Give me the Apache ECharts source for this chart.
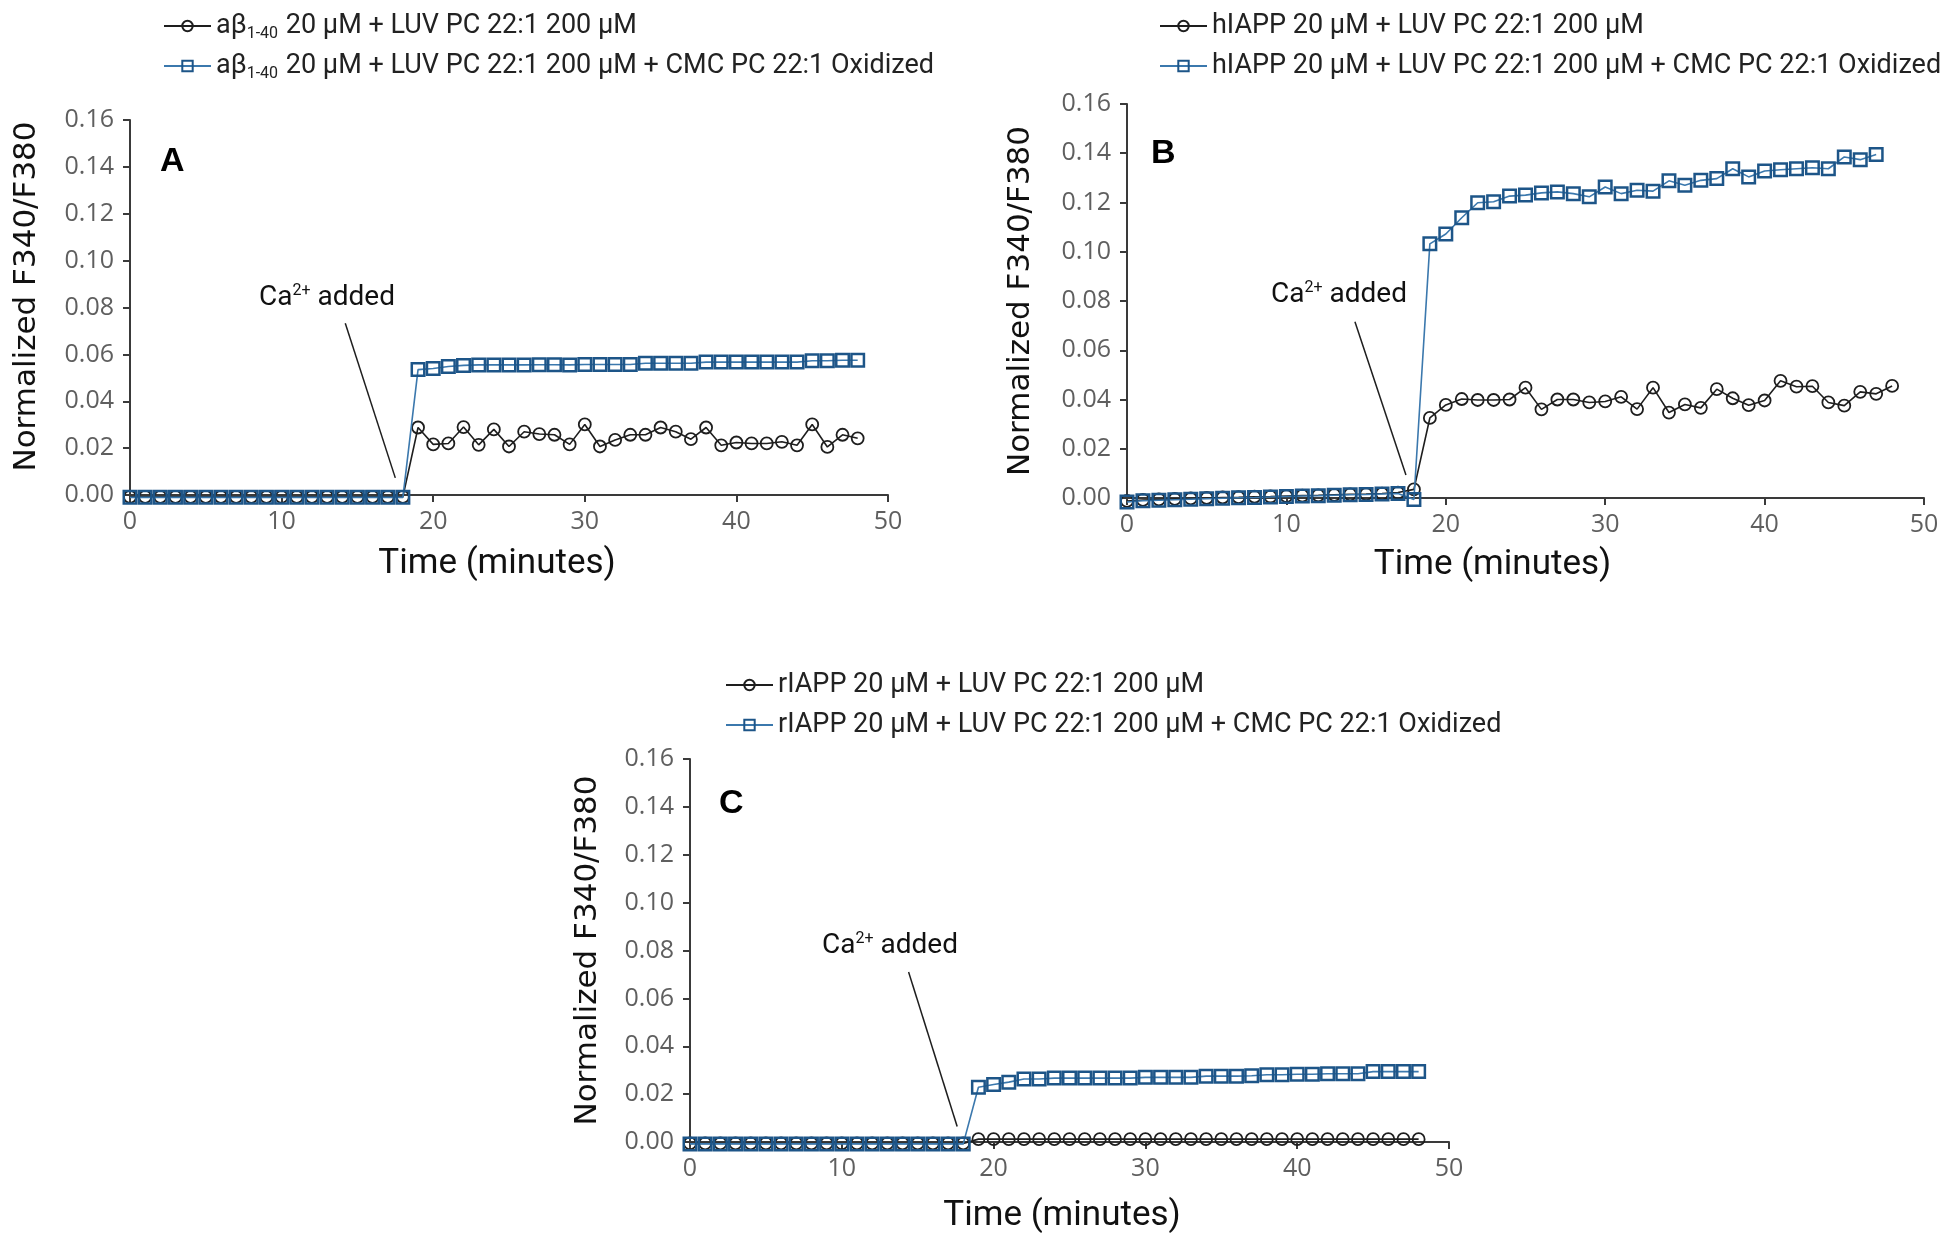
<!DOCTYPE html>
<html>
<head>
<meta charset="utf-8">
<script src="https://cdn.jsdelivr.net/npm/echarts@6/dist/echarts.min.js"></script>
<style>html,body{margin:0;padding:0;background:#fff;}#c{width:1950px;height:1243px;}</style>
</head>
<body>
<div id="c"></div>
<script>
// ---- data ----
const minutes = [0,1,2,3,4,5,6,7,8,9,10,11,12,13,14,15,16,17,18,19,20,21,22,23,24,25,26,27,28,29,30,31,32,33,34,35,36,37,38,39,40,41,42,43,44,45,46,47,48];
const xTicks = [0,10,20,30,40,50];
const yTicks = [0,0.02,0.04,0.06,0.08,0.10,0.12,0.14,0.16];

const seriesNames = {
  aLUV: 'aβ1-40 20 μM + LUV PC 22:1 200 μM',
  aCMC: 'aβ1-40 20 μM + LUV PC 22:1 200 μM + CMC PC 22:1 Oxidized',
  hLUV: 'hIAPP 20 μM + LUV PC 22:1 200 μM',
  hCMC: 'hIAPP 20 μM + LUV PC 22:1 200 μM + CMC PC 22:1 Oxidized',
  rLUV: 'rIAPP 20 μM + LUV PC 22:1 200 μM',
  rCMC: 'rIAPP 20 μM + LUV PC 22:1 200 μM + CMC PC 22:1 Oxidized'
};

// Panel A
const aLUV = [-0.0008,-0.0008,-0.0008,-0.0008,-0.0008,-0.0008,-0.0008,-0.0008,-0.0008,-0.0008,-0.0008,-0.0008,-0.0008,-0.0008,-0.0008,-0.0008,-0.0008,-0.0008,-0.0008,
  0.0288,0.0216,0.0220,0.0290,0.0214,0.0280,0.0207,0.0270,0.0260,0.0257,0.0216,0.0301,0.0207,0.0235,0.0257,0.0257,0.0288,0.0270,0.0238,0.0288,0.0212,0.0224,0.0220,0.0220,0.0227,0.0212,0.0301,0.0205,0.0257,0.0242];
const aCMC = [-0.0010,-0.0010,-0.0010,-0.0010,-0.0010,-0.0010,-0.0010,-0.0010,-0.0010,-0.0010,-0.0010,-0.0010,-0.0010,-0.0010,-0.0010,-0.0010,-0.0010,-0.0010,-0.0010,
  0.0535,0.0540,0.0548,0.0553,0.0555,0.0555,0.0555,0.0555,0.0556,0.0556,0.0555,0.0557,0.0557,0.0557,0.0557,0.0562,0.0562,0.0562,0.0562,0.0567,0.0567,0.0567,0.0567,0.0567,0.0567,0.0567,0.0573,0.0573,0.0575,0.0575];
// Panel B
const hLUV = [-0.0012,-0.0008,-0.0006,-0.0004,-0.0002,0.0000,0.0002,0.0003,0.0005,0.0006,0.0008,0.0010,0.0011,0.0013,0.0015,0.0016,0.0018,0.0022,0.0035,
  0.0325,0.0378,0.0402,0.0398,0.0398,0.0400,0.0448,0.0360,0.0400,0.0400,0.0388,0.0392,0.0411,0.0361,0.0448,0.0347,0.0380,0.0366,0.0442,0.0405,0.0377,0.0396,0.0476,0.0452,0.0454,0.0388,0.0375,0.0431,0.0423,0.0455];
const hCMC = [-0.0016,-0.0011,-0.0009,-0.0007,-0.0005,-0.0003,-0.0001,0.0001,0.0002,0.0004,0.0006,0.0008,0.0009,0.0011,0.0013,0.0014,0.0016,0.0018,-0.0006,
  0.1032,0.1072,0.1138,0.1199,0.1203,0.1226,0.1230,0.1239,0.1243,0.1236,0.1223,0.1263,0.1236,0.1250,0.1246,0.1288,0.1270,0.1290,0.1297,0.1337,0.1304,0.1328,0.1333,0.1337,0.1341,0.1337,0.1385,0.1374,0.1395];
// Panel C
const rLUV = [-0.0006,-0.0006,-0.0006,-0.0006,-0.0006,-0.0006,-0.0006,-0.0006,-0.0006,-0.0006,-0.0006,-0.0006,-0.0006,-0.0006,-0.0006,-0.0006,-0.0006,-0.0006,-0.0006,
  0.0012,0.0012,0.0012,0.0012,0.0012,0.0012,0.0012,0.0012,0.0012,0.0012,0.0012,0.0012,0.0012,0.0012,0.0012,0.0012,0.0012,0.0012,0.0012,0.0012,0.0012,0.0012,0.0012,0.0012,0.0012,0.0012,0.0012,0.0012,0.0012,0.0012];
const rCMC = [-0.0008,-0.0008,-0.0008,-0.0008,-0.0008,-0.0008,-0.0008,-0.0008,-0.0008,-0.0008,-0.0008,-0.0008,-0.0008,-0.0008,-0.0008,-0.0008,-0.0008,-0.0008,-0.0008,
  0.0229,0.0240,0.0250,0.0263,0.0263,0.0267,0.0267,0.0267,0.0267,0.0267,0.0267,0.0270,0.0270,0.0270,0.0270,0.0275,0.0275,0.0275,0.0277,0.0281,0.0281,0.0283,0.0283,0.0285,0.0285,0.0285,0.0294,0.0294,0.0294,0.0294];

// "Ca2+ added" arrow endpoints in data coordinates [minutes, ratio]
const arrowA = [[14.2, 0.0733], [17.5, 0.0073]];
const arrowB = [[14.3, 0.0716], [17.5, 0.0093]];
const arrowC = [[14.4, 0.0710], [17.6, 0.0065]];

// ---- styling ----
const BLACK = '#1e1e1e';
const BLUE_LINE = '#3b78ad';
const BLUE_MARK = '#1d5588';
const GRAY = '#5f5f5f';
const AXIS = '#3a3a3a';

function pairs(vals) { return vals.map((v, i) => [minutes[i], v]); }

function circleSeries(name, vals, idx) {
  return {
    name, type: 'line', xAxisIndex: idx, yAxisIndex: idx, data: pairs(vals),
    symbol: 'circle', symbolSize: 12, clip: false, z: 2,
    lineStyle: { color: BLACK, width: 1.6 },
    itemStyle: { color: 'rgba(255,255,255,0)', borderColor: BLACK, borderWidth: 1.8 },
    emphasis: { disabled: true }
  };
}
function squareSeries(name, vals, idx, arrow) {
  return {
    name, type: 'line', xAxisIndex: idx, yAxisIndex: idx, data: pairs(vals),
    symbol: 'rect', symbolSize: 12.5, clip: false, z: 3,
    lineStyle: { color: BLUE_LINE, width: 1.6 },
    itemStyle: { color: 'rgba(255,255,255,0)', borderColor: BLUE_MARK, borderWidth: 2.5 },
    emphasis: { disabled: true },
    markLine: {
      silent: true, symbol: ['none', 'none'], animation: false,
      label: { show: false },
      lineStyle: { color: BLACK, width: 1.5, type: 'solid' },
      data: [[{ coord: arrow[0] }, { coord: arrow[1] }]]
    }
  };
}

const grids = [
  { left: 130, top: 120, width: 758, height: 375 },
  { left: 1127, top: 104, width: 797, height: 394 },
  { left: 690, top: 759, width: 759, height: 383 }
];
const yNameGap = [88, 91, 87];
const yNamePad = [[0, 0, 0, 22], [0, 0, 0, 0], [0, 0, 0, 0]];
const xNameGap = [52, 50, 57];
const xNamePad = [[0, 24, 0, 0], [0, 66, 0, 0], [0, 15, 0, 0]];

function xAxis(i) {
  return {
    type: 'value', gridIndex: i, min: xTicks[0], max: xTicks[xTicks.length - 1], interval: xTicks[1] - xTicks[0],
    name: 'Time (minutes)', nameLocation: 'middle', nameGap: xNameGap[i],
    nameTextStyle: { fontFamily: 'Roboto', fontSize: 35, color: '#111', padding: xNamePad[i] },
    axisLine: { show: true, onZero: false, lineStyle: { color: AXIS, width: 2 } },
    axisTick: { show: true, length: 7, lineStyle: { color: AXIS, width: 2 } },
    axisLabel: { color: GRAY, fontFamily: 'Open Sans', fontSize: 25, margin: 14 },
    splitLine: { show: false }
  };
}
function yAxis(i) {
  return {
    type: 'value', gridIndex: i, min: yTicks[0], max: yTicks[yTicks.length - 1], interval: 0.02,
    name: 'Normalized F340/F380', nameLocation: 'middle', nameGap: yNameGap[i],
    nameTextStyle: { fontFamily: 'DejaVu Sans', fontSize: 31, color: '#111', padding: yNamePad[i] },
    axisLine: { show: true, onZero: false, lineStyle: { color: AXIS, width: 2 } },
    axisTick: { show: true, length: 7, lineStyle: { color: AXIS, width: 2 } },
    axisLabel: { color: GRAY, fontFamily: 'Open Sans', fontSize: 25, margin: 16, formatter: v => v.toFixed(2) },
    splitLine: { show: false }
  };
}

const legendText = {
  fontFamily: 'Roboto', fontSize: 27, color: '#222', lineHeight: 32,
  rich: { sub: { fontFamily: 'Roboto', fontSize: 16, verticalAlign: 'bottom', lineHeight: 20, padding: [14, 1, 0, 0], color: '#222' } }
};
function legend(names, left, top) {
  return {
    orient: 'vertical', left, top, itemGap: 8, itemWidth: 47, itemHeight: 13,
    data: names, textStyle: legendText, selectedMode: false,
    formatter: n => n.replace('aβ1-40', 'aβ{sub|1-40}')
  };
}

const annoText = {
  fontFamily: 'Roboto', fontSize: 28, fontWeight: 'normal', color: '#111',
  rich: { sup: { fontFamily: 'Roboto', fontSize: 16, verticalAlign: 'top', lineHeight: 30, color: '#111' } }
};
const letterText = { fontFamily: 'Liberation Sans', fontSize: 34, fontWeight: 'bold', color: '#000' };

const option = {
  animation: false,
  backgroundColor: '#fff',
  title: [
    { text: 'A', left: 160, top: 145, padding: 0, textStyle: letterText },
    { text: 'B', left: 1151, top: 137, padding: 0, textStyle: letterText },
    { text: 'C', left: 719, top: 787, padding: 0, textStyle: letterText },
    { text: 'Ca{sup|2+} added', left: 259, top: 283, padding: 0, textStyle: annoText },
    { text: 'Ca{sup|2+} added', left: 1271, top: 280, padding: 0, textStyle: annoText },
    { text: 'Ca{sup|2+} added', left: 822, top: 931, padding: 0, textStyle: annoText }
  ],
  legend: [
    legend([seriesNames.aLUV, seriesNames.aCMC], 158, 5),
    legend([seriesNames.hLUV, seriesNames.hCMC], 1154, 5),
    legend([seriesNames.rLUV, seriesNames.rCMC], 720, 664)
  ],
  grid: grids,
  xAxis: [xAxis(0), xAxis(1), xAxis(2)],
  yAxis: [yAxis(0), yAxis(1), yAxis(2)],
  series: [
    circleSeries(seriesNames.aLUV, aLUV, 0),
    squareSeries(seriesNames.aCMC, aCMC, 0, arrowA),
    circleSeries(seriesNames.hLUV, hLUV, 1),
    squareSeries(seriesNames.hCMC, hCMC.slice(0, 48), 1, arrowB),
    circleSeries(seriesNames.rLUV, rLUV, 2),
    squareSeries(seriesNames.rCMC, rCMC, 2, arrowC)
  ]
};

const chart = echarts.init(document.getElementById('c'), null, { renderer: 'canvas' });
chart.setOption(option);
</script>
</body>
</html>
